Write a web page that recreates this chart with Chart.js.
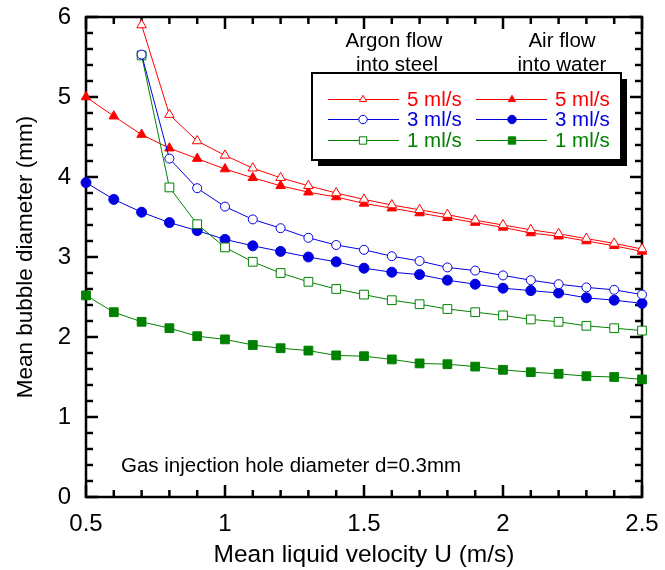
<!DOCTYPE html>
<html>
<head>
<meta charset="utf-8">
<script src="https://cdn.jsdelivr.net/npm/chart.js@4/dist/chart.umd.min.js"></script>
<style>
  html, body { margin: 0; padding: 0; background: #fff; }
  #c { display: block; }
</style>
</head>
<body>
<canvas id="c" width="665" height="570"></canvas>
<script>
// Mean liquid velocity U (m/s)
const velocityAir   = [0.5, 0.6, 0.7, 0.8, 0.9, 1.0, 1.1, 1.2, 1.3, 1.4, 1.5, 1.6, 1.7, 1.8, 1.9, 2.0, 2.1, 2.2, 2.3, 2.4, 2.5];
const velocityArgon = [0.7, 0.8, 0.9, 1.0, 1.1, 1.2, 1.3, 1.4, 1.5, 1.6, 1.7, 1.8, 1.9, 2.0, 2.1, 2.2, 2.3, 2.4, 2.5];

// Mean bubble diameter (mm), argon flow into steel
const argon5 = [5.90, 4.78, 4.45, 4.27, 4.11, 3.99, 3.89, 3.80, 3.72, 3.65, 3.59, 3.53, 3.46, 3.40, 3.34, 3.29, 3.23, 3.17, 3.10];
const argon3 = [5.53, 4.23, 3.86, 3.63, 3.47, 3.36, 3.24, 3.15, 3.09, 3.01, 2.95, 2.87, 2.83, 2.77, 2.71, 2.66, 2.62, 2.59, 2.53];
const argon1 = [5.52, 3.87, 3.41, 3.12, 2.94, 2.80, 2.69, 2.60, 2.53, 2.46, 2.41, 2.35, 2.31, 2.27, 2.22, 2.19, 2.14, 2.11, 2.08];

// Mean bubble diameter (mm), air flow into water
const air5 = [5.00, 4.76, 4.53, 4.36, 4.23, 4.10, 3.99, 3.89, 3.81, 3.75, 3.67, 3.61, 3.55, 3.49, 3.43, 3.37, 3.30, 3.26, 3.20, 3.14, 3.07];
const air3 = [3.93, 3.72, 3.56, 3.43, 3.33, 3.22, 3.14, 3.07, 3.00, 2.94, 2.86, 2.81, 2.78, 2.71, 2.66, 2.61, 2.58, 2.55, 2.49, 2.46, 2.42];
const air1 = [2.52, 2.31, 2.19, 2.11, 2.01, 1.97, 1.90, 1.86, 1.83, 1.77, 1.76, 1.72, 1.67, 1.66, 1.63, 1.59, 1.56, 1.54, 1.51, 1.50, 1.47];

const seriesLabels = ['5 ml/s', '3 ml/s', '1 ml/s'];
const columnHeaders = [['Argon flow', 'into steel'], ['Air flow', 'into water']];
const noteText = 'Gas injection hole diameter d=0.3mm';

const FONT = '"Liberation Sans", Arial, Helvetica, sans-serif';
const RED = '#ff0000', BLUE = '#0000e0', GREEN = '#008200';

const pairs = (xs, ys) => xs.map((x, i) => ({ x: x, y: ys[i] }));

function series(label, xs, ys, color, style, radius, filled) {
  return {
    label: label,
    data: pairs(xs, ys),
    borderColor: color,
    borderWidth: 1,
    pointStyle: style,
    pointRadius: radius,
    pointBorderWidth: 1,
    pointBorderColor: color,
    pointBackgroundColor: filled ? color : '#ffffff',
    backgroundColor: filled ? color : '#ffffff',
    tension: 0,
    clip: false,
    fill: false
  };
}

const datasets = [
  series(seriesLabels[0], velocityArgon, argon5, RED,   'triangle', 5.5, false),
  series(seriesLabels[1], velocityArgon, argon3, BLUE,  'circle',   4.5, false),
  series(seriesLabels[2], velocityArgon, argon1, GREEN, 'rect',     6.2, false),
  series(seriesLabels[0], velocityAir,   air5,   RED,   'triangle', 5.5, true),
  series(seriesLabels[1], velocityAir,   air3,   BLUE,  'circle',   5,   true),
  series(seriesLabels[2], velocityAir,   air1,   GREEN, 'rect',     6.2, true)
];

// Plot frame with inward tick marks, drawn under the data
function drawFrame(chart) {
  const ctx = chart.ctx;
  const a = chart.chartArea;
  const xs = chart.scales.x, ys = chart.scales.y;
  ctx.save();
  ctx.strokeStyle = '#000000';
  ctx.lineWidth = 2.5;
  ctx.beginPath();
  for (let i = 0; i <= 30; i++) {
    const py = ys.getPixelForValue(i * 0.2);
    const len = (i % 5 === 0) ? 12 : 7;
    ctx.moveTo(a.left, py);
    ctx.lineTo(a.left + len, py);
    ctx.moveTo(a.right, py);
    ctx.lineTo(a.right - len, py);
  }
  for (let i = 0; i <= 20; i++) {
    const px = xs.getPixelForValue(0.5 + i * 0.1);
    const len = (i % 5 === 0) ? 12 : 7;
    ctx.moveTo(px, a.bottom);
    ctx.lineTo(px, a.bottom - len);
    ctx.moveTo(px, a.top);
    ctx.lineTo(px, a.top + len);
  }
  ctx.stroke();
  ctx.strokeRect(a.left, a.top, a.right - a.left, a.bottom - a.top);
  ctx.restore();
}

// Two-column key with drop shadow, headers and the note
function drawKey(chart) {
  const ctx = chart.ctx;
  const box = { x: 312, y: 73, w: 309, h: 87 };
  ctx.save();
  ctx.fillStyle = '#000';
  ctx.fillRect(box.x + 6, box.y + 6, box.w, box.h);
  ctx.fillStyle = '#fff';
  ctx.fillRect(box.x, box.y, box.w, box.h);
  ctx.strokeStyle = '#000';
  ctx.lineWidth = 2;
  ctx.strokeRect(box.x, box.y, box.w, box.h);

  const rowsY = [99, 119, 140];
  const cols = [
    { lineFrom: 328, lineTo: 399, mark: 363, text: 407, first: 0 },
    { lineFrom: 476, lineTo: 547, mark: 512, text: 555, first: 3 }
  ];
  ctx.font = '20.5px ' + FONT;
  ctx.textBaseline = 'middle';
  ctx.textAlign = 'left';
  cols.forEach(col => {
    rowsY.forEach((ry, r) => {
      const ds = chart.data.datasets[col.first + r];
      ctx.strokeStyle = ds.borderColor;
      ctx.lineWidth = 1;
      ctx.beginPath();
      ctx.moveTo(col.lineFrom, ry + 0.5);
      ctx.lineTo(col.lineTo, ry + 0.5);
      ctx.stroke();
      ctx.fillStyle = ds.pointBackgroundColor;
      ctx.strokeStyle = ds.pointBorderColor;
      Chart.helpers.drawPoint(ctx, {
        pointStyle: ds.pointStyle,
        radius: ds.pointStyle === 'rect' ? 5.2 : 4.2,
        rotation: 0,
        borderWidth: 1
      }, col.mark, ry + 0.5);
      ctx.fillStyle = ds.borderColor;
      ctx.fillText(ds.label, col.text, ry + 1);
    });
  });

  ctx.fillStyle = '#000';
  ctx.textAlign = 'center';
  ctx.fillText(columnHeaders[0][0], 394, 41);
  ctx.fillText(columnHeaders[0][1], 397, 65);
  ctx.fillText(columnHeaders[1][0], 562, 41);
  ctx.fillText(columnHeaders[1][1], 562, 65);

  ctx.textAlign = 'left';
  ctx.textBaseline = 'alphabetic';
  ctx.font = '20.5px ' + FONT;
  ctx.fillText(noteText, 121, 472);
  ctx.restore();
}

const decorPlugin = {
  id: 'decor',
  beforeDatasetsDraw(chart) { drawFrame(chart); },
  afterDatasetsDraw(chart) { drawKey(chart); }
};

new Chart(document.getElementById('c'), {
  type: 'line',
  data: { datasets: datasets },
  options: {
    responsive: false,
    animation: false,
    devicePixelRatio: 1,
    layout: { padding: { top: 17, right: 23, left: 0, bottom: 0 } },
    plugins: { legend: { display: false }, tooltip: { enabled: false } },
    scales: {
      x: {
        type: 'linear',
        min: 0.5,
        max: 2.5,
        grid: { display: false },
        border: { display: false },
        ticks: {
          stepSize: 0.5,
          maxRotation: 0,
          autoSkip: false,
          padding: 5,
          color: '#000',
          font: { family: FONT, size: 24 },
          callback: v => String(v)
        },
        title: {
          display: true,
          text: 'Mean liquid velocity U (m/s)',
          color: '#000',
          font: { family: FONT, size: 24.5 },
          padding: { top: 4, bottom: 0 }
        },
        afterFit(scale) { scale.height = 73; }
      },
      y: {
        type: 'linear',
        min: 0,
        max: 6,
        grid: { display: false },
        border: { display: false },
        ticks: {
          stepSize: 1,
          padding: 7,
          color: '#000',
          font: { family: FONT, size: 24, lineHeight: 0.8 },
          callback: v => String(v)
        },
        title: {
          display: true,
          text: 'Mean bubble diameter (mm)',
          color: '#000',
          font: { family: FONT, size: 22.5 },
          padding: { top: 12, bottom: 0 }
        },
        afterFit(scale) { scale.width = 86; }
      }
    }
  },
  plugins: [decorPlugin]
});
</script>
</body>
</html>
